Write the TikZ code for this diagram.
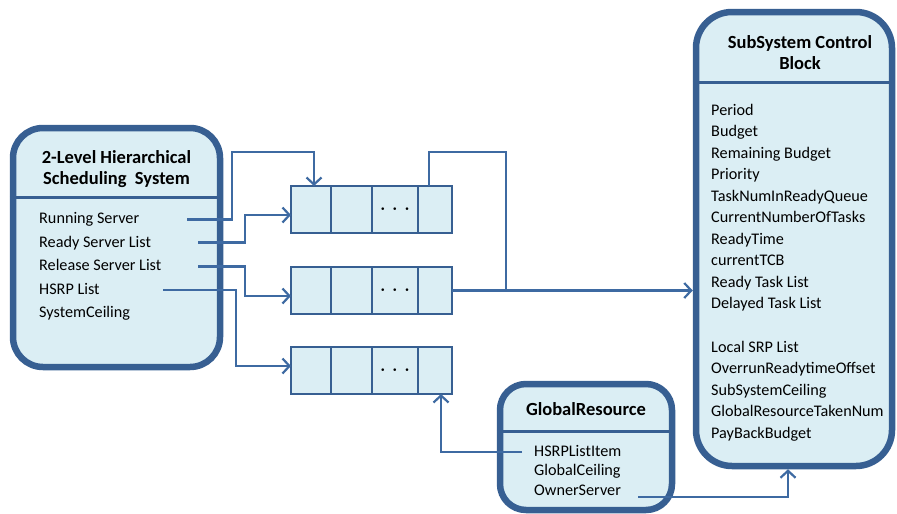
\documentclass[tikz,border=0pt]{standalone}
\usepackage{fontspec}
\setmainfont{Carlito}
\usepackage{amsmath}
\usetikzlibrary{arrows.meta,calc}
\definecolor{bord}{RGB}{55,95,146}
\definecolor{conn}{RGB}{62,106,162}
\definecolor{fillc}{RGB}{219,238,244}
\newcommand\myqueue[2]{%
  \node[cell,minimum width=40pt] (#1a) at (291,#2) {};
  \node[cell,minimum width=41pt] (#1b) at (#1a.east) {};
  \node[cell,minimum width=46pt,font=\fontsize{16}{16}\selectfont] (#1c) at (#1b.east) {\raisebox{0.5pt}{$\boldsymbol{\cdot}\mkern3mu\boldsymbol{\cdot}\mkern3mu\boldsymbol{\cdot}$}};
  \node[cell,minimum width=34pt] (#1d) at (#1c.east) {};
}
\begin{document}
\begin{tikzpicture}[x=1pt,y=-1pt,
  item/.style={anchor=west,inner sep=0pt,text height=11pt,text depth=3pt,font=\fontsize{16.2}{19}\selectfont},
  ttl/.style={font=\fontsize{18.5}{21}\selectfont\bfseries,align=center,inner sep=0pt},
  panel/.style={draw=bord,line width=6.5pt,fill=fillc},
  sepl/.style={draw=bord,line width=3pt},
  cell/.style={draw=bord,line width=2pt,fill=fillc,minimum height=47pt,inner sep=0pt,anchor=west,outer sep=0pt},
  link/.style={draw=conn,line width=2.2pt},
  arr/.style={link,-{Straight Barb[length=7pt,width=15pt,line width=2.2pt]}}]
\useasboundingbox (0,0) rectangle (897,514);

% ---------- left panel ----------
\node[panel,rounded corners=30pt,minimum width=207pt,minimum height=239pt] (sys) at (116.5,247.5) {};
\draw[sepl] (sys.west |- 0,197) -- (sys.east |- 0,197);
\node[ttl] (systitle) at (116.5,169) {2-Level Hierarchical\\Scheduling~~System};
\node[item] (rs) at (39,219.5) {Running Server};
\node[item] (rl) at (39,243) {Ready Server List};
\node[item] (rel) at (39,266.5) {Release Server List};
\node[item] (hl) at (39,290) {HSRP List};
\node[item] (sc) at (39,313.5) {SystemCeiling};

% ---------- queues ----------
\myqueue{qa}{209.5}
\myqueue{qb}{290.5}
\myqueue{qc}{370.5}

% ---------- subsystem control block ----------
\node[panel,rounded corners=36pt,minimum width=196pt,minimum height=454pt] (ssb) at (794,239) {};
\draw[sepl] (ssb.west |- 0,82) -- (ssb.east |- 0,82);
\node[ttl] (ssbtitle) at (800,53) {SubSystem Control\\Block};
\node[item] (s1) at (711,111) {Period};
\node[item] (s2) at (711,132.5) {Budget};
\node[item] (s3) at (711,154) {Remaining Budget};
\node[item] (s4) at (711,175.5) {Priority};
\node[item] (s5) at (711,197) {TaskNumInReadyQueue};
\node[item] (s6) at (711,218.5) {CurrentNumberOfTasks};
\node[item] (s7) at (711,240) {ReadyTime};
\node[item] (s8) at (711,261.5) {currentTCB};
\node[item] (s9) at (711,283) {Ready Task List};
\node[item] (s10) at (711,304.5) {Delayed Task List};
\node[item] (s11) at (711,348) {Local SRP List};
\node[item] (s12) at (711,369.5) {OverrunReadytimeOffset};
\node[item] (s13) at (711,391) {SubSystemCeiling};
\node[item] (s14) at (711,412.5) {GlobalResourceTakenNum};
\node[item] (s15) at (711,434) {PayBackBudget};

% ---------- global resource ----------
\node[panel,rounded corners=26pt,minimum width=172pt,minimum height=126pt] (gr) at (586,447) {};
\draw[sepl] (gr.west |- 0,431) -- (gr.east |- 0,431);
\node[ttl] (grtitle) at (586,409.5) {GlobalResource};
\node[item] (g1) at (534,452) {HSRPListItem};
\node[item] (g2) at (534,471.5) {GlobalCeiling};
\node[item] (g3) at (534,491) {OwnerServer};

% ---------- connectors ----------
\coordinate (rs0) at (187,219.5);
\coordinate (rsA) at (232,152);
\draw[arr] (rs0) -| (rsA) -| ($(qaa.north)+(3,0)$);

\coordinate (rl0) at (198,242.5);
\coordinate (rlA) at (245,215);
\draw[arr] (rl0) -| (rlA) -- (rlA -| qaa.west);

\coordinate (re0) at (198,266.5);
\coordinate (reA) at (245,296);
\draw[arr] (re0) -| (reA) -- (reA -| qba.west);

\coordinate (hl0) at (163,290);
\coordinate (hlA) at (236,366);
\draw[arr] (hl0) -| (hlA) -- (hlA -| qca.west);

\coordinate (loopA) at (506,152);
\draw[link] ($(qad.north west)+(11,0)$) |- (loopA) -- (loopA |- qbd.east);
\draw[arr] (qbd.east) -- (qbd.east -| ssb.west);

\coordinate (g10) at (522,452);
\draw[arr] (g10) -| ($(qcd.south)+(6,0)$);

\coordinate (g30) at (638,497);
\coordinate (g3A) at (788,497);
\draw[arr] (g30) -- (g3A) -- (g3A |- ssb.south);
\end{tikzpicture}
\end{document}
